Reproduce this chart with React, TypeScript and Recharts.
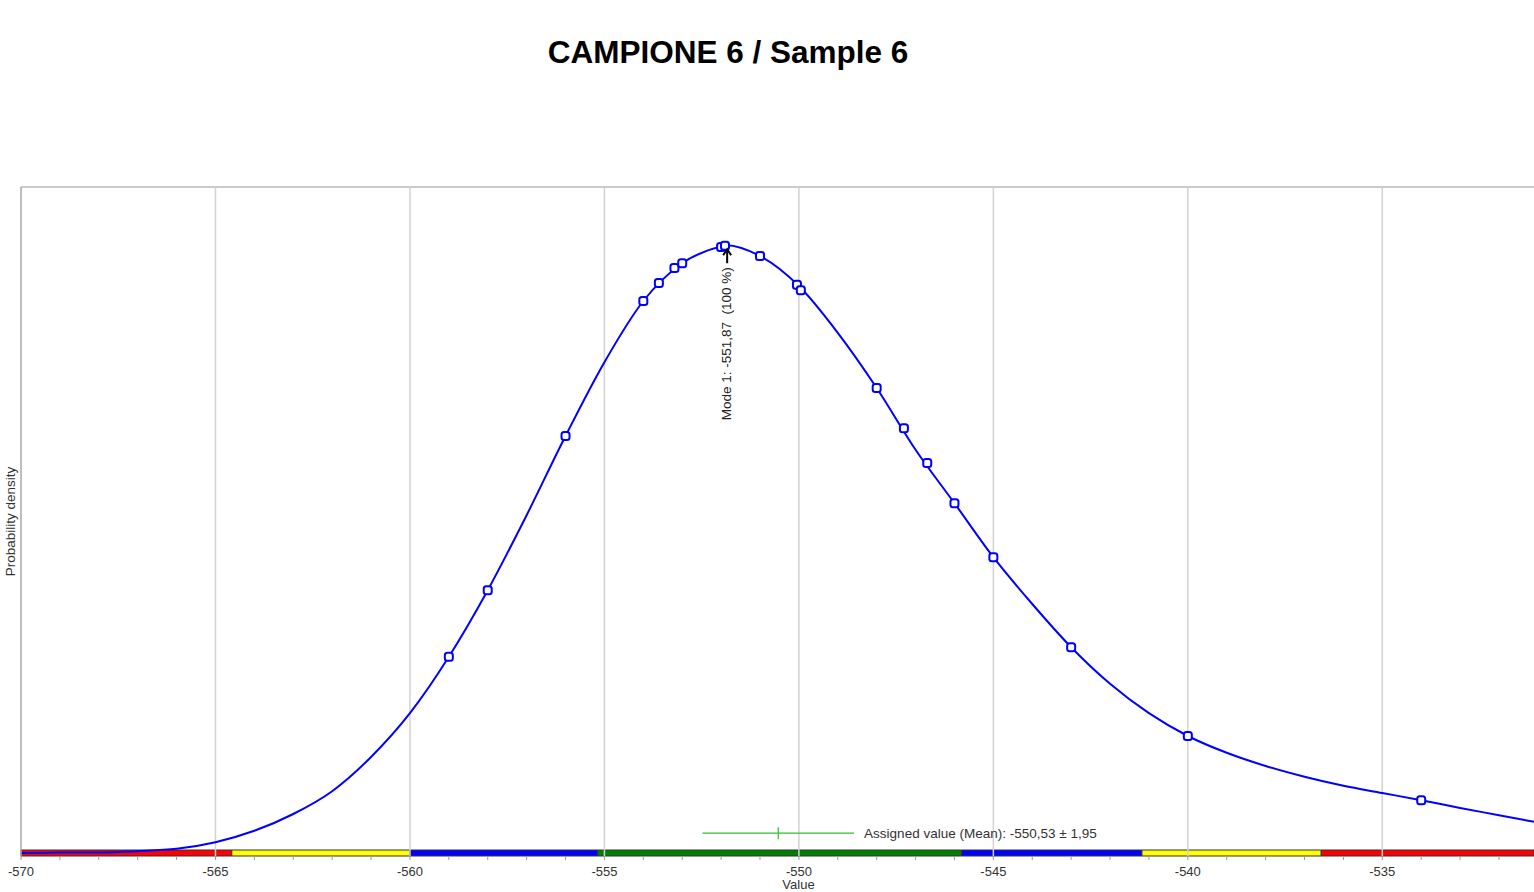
import { ComposedChart, Line, Scatter, XAxis, YAxis, ReferenceLine, ReferenceArea, ReferenceDot } from 'recharts';

// density curve
const curveX = [
  -570, -569, -568, -567, -566, -565, -564, -563, -562, -561, -560, -559, -558, -557, -556, -555,
  -554, -553, -552, -551.87, -551, -550, -549, -548, -547, -546, -545, -544, -543, -542, -541,
  -540, -539, -538, -537, -536, -535, -534, -533, -532, -531.1,
];
const curveY = [
  0.0, 0.0001, 0.0001, 0.0003, 0.0007, 0.0018, 0.0037, 0.0065, 0.0103, 0.016, 0.0233, 0.0327,
  0.0438, 0.0563, 0.0695, 0.0818, 0.092, 0.0983, 0.1011, 0.1013, 0.0995, 0.0945, 0.0867, 0.0775,
  0.0672, 0.0583, 0.0493, 0.0415, 0.0343, 0.0282, 0.0233, 0.0195, 0.0167, 0.0145, 0.0127, 0.0112,
  0.01, 0.0088, 0.0075, 0.0063, 0.0052,
];

// participant results (markers on the curve)
const pointX = [
  -559, -558, -556, -554, -553.6, -553.2, -553, -552, -551.9, -551, -550.05, -549.95, -548, -547.3,
  -546.7, -546, -545, -543, -540, -534,
];
const pointY = [
  0.0327, 0.0438, 0.0695, 0.092, 0.095, 0.0975, 0.0983, 0.101, 0.1012, 0.0995, 0.0947, 0.0938,
  0.0775, 0.0708, 0.065, 0.0583, 0.0493, 0.0343, 0.0195, 0.0088,
];

const majorTicks = [-570, -565, -560, -555, -550, -545, -540, -535];
const minorTicks = Array.from({ length: 39 }, (_, i) => -570 + i);

// score band under the axis
const bandEdges = [-570, -564.58, -560, -555.17, -545.82, -541.18, -536.57, -531.1];
const bandColors = ['#ff0000', '#ffff00', '#0000ff', '#008000', '#0000ff', '#ffff00', '#ff0000'];

const modeValue = -551.87;
const modeDensity = 0.1013;
const mean = -550.53;
const uncertainty = 1.95;
const assignedY = 0.0033;

const X_MIN = -570;
const X_MAX = -531.1;
const Y_MIN = -0.0005;
const Y_MAX = 0.111;

const FONT = '"Liberation Sans", Arial, sans-serif';
const FS = 13.5;

const lineData = curveX.map((x, i) => ({ x, y: curveY[i] }));
const pointData = pointX.map((x, i) => ({ x, y: pointY[i] }));

const Marker = (props: any) => {
  const { cx, cy } = props;
  if (cx == null || cy == null) return null;
  return <rect x={cx - 4} y={cy - 4} width={8} height={8} rx={2.5} fill="#fff" stroke="#0000ff" strokeWidth={2} />;
};

const AxisTick = (props: any) => {
  const { x, y, payload } = props;
  const v = payload.value;
  const major = majorTicks.includes(v);
  return (
    <g>
      <line x1={x} x2={x} y1={y} y2={y + 4} stroke="#999" strokeWidth={1} />
      {major && (
        <text x={x} y={y + 20} textAnchor="middle" fontSize={FS - 0.5} fontFamily={FONT} fill="#333">
          {v}
        </text>
      )}
    </g>
  );
};

const YLabel = (props: any) => {
  const vb = props.viewBox || {};
  const cx = vb.x + 10;
  const cy = vb.y + vb.height / 2;
  return (
    <text x={cx} y={cy} transform={`rotate(-90 ${cx} ${cy})`} textAnchor="middle" dominantBaseline="central" fontSize={FS} fontFamily={FONT} fill="#333">
      Probability density
    </text>
  );
};

const ModeMark = (props: any) => {
  const { cx, cy } = props;
  if (cx == null || cy == null) return null;
  const tx = cx + 5;
  const ty = cy + 22;
  return (
    <g>
      <line x1={cx + 1} x2={cx + 1} y1={cy + 4} y2={cy + 18} stroke="#000" strokeWidth={2} />
      <path d={`M ${cx - 3} ${cy + 10} L ${cx + 1} ${cy + 4} L ${cx + 5} ${cy + 10}`} fill="none" stroke="#000" strokeWidth={2} />
      <text x={tx} y={ty} transform={`rotate(-90 ${tx} ${ty})`} textAnchor="end" fontSize={FS} fontFamily={FONT} fill="#222" style={{ whiteSpace: 'pre' }}>
        {`Mode 1: ${String(modeValue).replace('.', ',')}  (100 %)`}
      </text>
    </g>
  );
};

const AssignedText = (props: any) => {
  const { cx, cy } = props;
  if (cx == null || cy == null) return null;
  return (
    <text x={cx + 10} y={cy + 5} fontSize={FS} fontFamily={FONT} fill="#333">
      {`Assigned value (Mean): ${String(mean).replace('.', ',')} ± ${String(uncertainty).replace('.', ',')}`}
    </text>
  );
};

export default function App() {
  return (
    <div style={{ position: 'absolute', left: 0, top: 0, width: 1534, height: 892, background: '#fff', overflow: 'hidden' }}>
      <div
        style={{
          position: 'absolute',
          left: 428,
          top: 33,
          width: 600,
          textAlign: 'center',
          fontFamily: FONT,
          fontWeight: 'bold',
          fontSize: 31.5,
          lineHeight: '38px',
          color: '#000',
        }}
      >
        CAMPIONE 6 / Sample 6
      </div>
      <ComposedChart width={1534} height={892} margin={{ top: 187, right: 0, bottom: 0, left: 0 }}>
        <XAxis
          type="number"
          dataKey="x"
          domain={[X_MIN, X_MAX]}
          allowDataOverflow
          ticks={minorTicks}
          interval={0}
          tick={<AxisTick />}
          tickLine={false}
          axisLine={false}
          tickSize={0}
          tickMargin={0}
          height={36}
          label={{ value: 'Value', position: 'insideBottom', dx: 21, offset: 3, fontSize: FS - 0.5, fontFamily: FONT, fill: '#333' }}
        />
        <YAxis
          type="number"
          dataKey="y"
          domain={[Y_MIN, Y_MAX]}
          allowDataOverflow
          width={21}
          tick={false}
          tickLine={false}
          axisLine={{ stroke: '#a8a8a8', strokeWidth: 1.5 }}
          label={<YLabel />}
        />
        <ReferenceLine y={Y_MAX} stroke="#b8b8b8" strokeWidth={1.5} />
        {majorTicks.slice(1).map((v) => (
          <ReferenceLine key={v} x={v} stroke="#d2d2d2" strokeWidth={1.5} />
        ))}
        {bandColors.map((c, i) => (
          <ReferenceArea key={i} x1={bandEdges[i]} x2={bandEdges[i + 1]} y1={Y_MIN} y2={0.0005} fill={c} fillOpacity={1} stroke="#333" strokeWidth={1} ifOverflow="visible" />
        ))}
        <ReferenceLine
          segment={[{ x: mean - uncertainty, y: assignedY }, { x: mean + uncertainty, y: assignedY }]}
          stroke="#33bb33"
          strokeWidth={1.2}
        />
        <ReferenceLine
          segment={[{ x: mean, y: assignedY - 0.001 }, { x: mean, y: assignedY + 0.001 }]}
          stroke="#33bb33"
          strokeWidth={1.2}
        />
        <ReferenceDot x={mean + uncertainty} y={assignedY} shape={<AssignedText />} />
        <Line data={lineData} dataKey="y" type="monotone" stroke="#0000ff" strokeWidth={2} dot={false} isAnimationActive={false} />
        <Scatter data={pointData} dataKey="y" shape={<Marker />} isAnimationActive={false} />
        <ReferenceDot x={modeValue} y={modeDensity} shape={<ModeMark />} />
      </ComposedChart>
    </div>
  );
}
